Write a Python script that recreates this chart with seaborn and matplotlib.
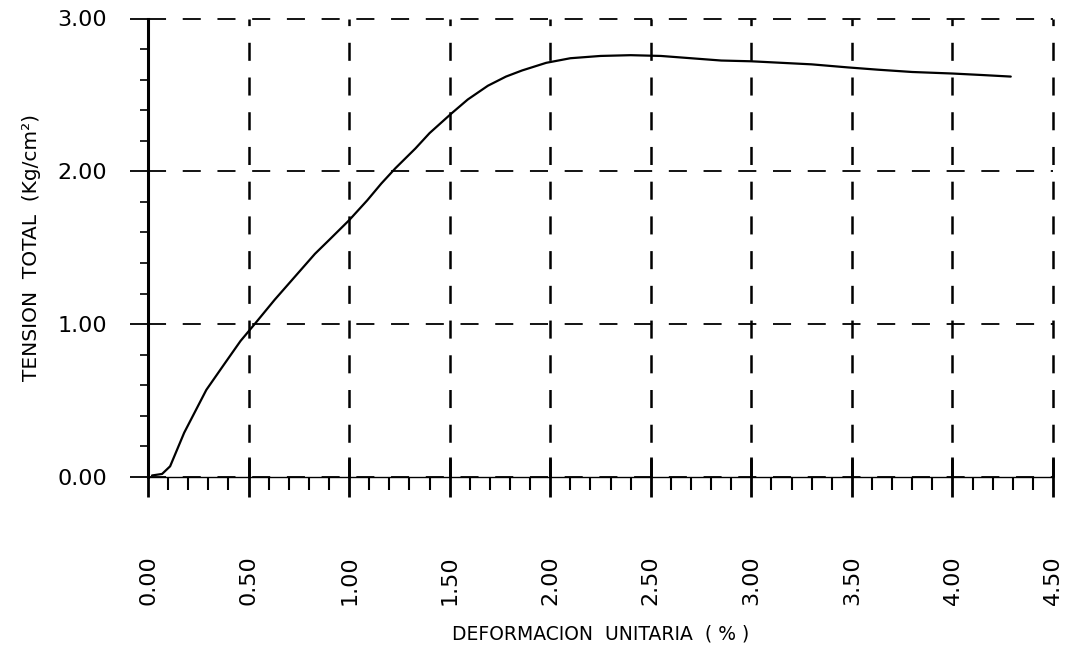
import numpy as np
import pandas as pd
import matplotlib
matplotlib.use("Agg")
import matplotlib.pyplot as plt
from matplotlib.ticker import MultipleLocator, FormatStrFormatter
import seaborn as sns

# ---- data ----
strain = [0.02, 0.07, 0.11, 0.18, 0.29, 0.38, 0.46, 0.53, 0.63, 0.73, 0.83, 0.90,
          1.00, 1.09, 1.16, 1.23, 1.33, 1.40, 1.51, 1.59, 1.69, 1.78, 1.86, 1.98,
          2.10, 2.25, 2.40, 2.55, 2.70, 2.85, 3.00, 3.15, 3.30, 3.48, 3.63, 3.80,
          4.00, 4.15, 4.29]
stress = [0.01, 0.02, 0.07, 0.29, 0.57, 0.74, 0.89, 1.00, 1.16, 1.31, 1.46, 1.55,
          1.68, 1.81, 1.92, 2.02, 2.15, 2.25, 2.38, 2.47, 2.56, 2.62, 2.66, 2.71,
          2.74, 2.755, 2.76, 2.755, 2.74, 2.725, 2.72, 2.71, 2.70, 2.68, 2.665, 2.65,
          2.64, 2.63, 2.62]
xlabel_text = "DEFORMACION  UNITARIA  ( % )"
ylabel_text = "TENSION  TOTAL  (Kg/cm²)"

df = pd.DataFrame({"strain": strain, "stress": stress})

sns.set_style("white")
plt.rcParams["font.family"] = ["DejaVu Sans"]
plt.rcParams["lines.scale_dashes"] = False
plt.rcParams["text.color"] = "black"
plt.rcParams["axes.labelcolor"] = "black"
plt.rcParams["xtick.color"] = "black"
plt.rcParams["ytick.color"] = "black"

W, H = 1067, 654
fig = plt.figure(figsize=(W / 100, H / 100), dpi=100)
x0, x1 = 148, 1053
y0, y1 = 477, 18.5
ax = fig.add_axes([x0 / W, 1 - y0 / H, (x1 - x0) / W, (y0 - y1) / H])

sns.lineplot(data=df, x="strain", y="stress", sort=False, estimator=None,
             color="black", linewidth=1.6, ax=ax)

ax.set_xlim(0, 4.5)
ax.set_ylim(0, 3.0)

ax.xaxis.set_major_locator(MultipleLocator(0.5))
ax.xaxis.set_minor_locator(MultipleLocator(0.1))
ax.yaxis.set_major_locator(MultipleLocator(1.0))
ax.yaxis.set_minor_locator(MultipleLocator(0.2))
ax.xaxis.set_major_formatter(FormatStrFormatter("%.2f"))
ax.yaxis.set_major_formatter(FormatStrFormatter("%.2f"))

dash = (0, (13, 12))
ax.xaxis.grid(True, which="major", color="black", linestyle=dash, linewidth=1.8)
ax.yaxis.grid(True, which="major", color="black", linestyle=dash, linewidth=1.3)
for ln in ax.get_xgridlines() + ax.get_ygridlines():
    ln.set_clip_on(False)

for s in ["top", "right"]:
    ax.spines[s].set_visible(False)
ax.spines["left"].set_linewidth(2.2)
ax.spines["left"].set_color("black")
ax.spines["bottom"].set_linewidth(1.0)
ax.spines["bottom"].set_color("black")

ax.tick_params(axis="x", which="major", direction="inout", length=28.8, width=2.0,
               color="black", labelcolor="black", pad=41.8, labelsize=16,
               labelrotation=90)
ax.tick_params(axis="x", which="minor", direction="out", length=9.4, width=1.5,
               color="black")
ax.tick_params(axis="y", which="major", direction="out", length=13, width=1.3,
               color="black", labelcolor="black", pad=16.5, labelsize=16)
ax.tick_params(axis="y", which="minor", direction="out", length=5.8, width=1.2,
               color="black")
ax.tick_params(bottom=True, left=True, which="both")

ax.set_xlabel(xlabel_text, fontsize=13.5, labelpad=14, color="black")
ax.set_ylabel(ylabel_text, fontsize=14.5, labelpad=12, color="black")

fig.savefig("out.png", dpi=100)
